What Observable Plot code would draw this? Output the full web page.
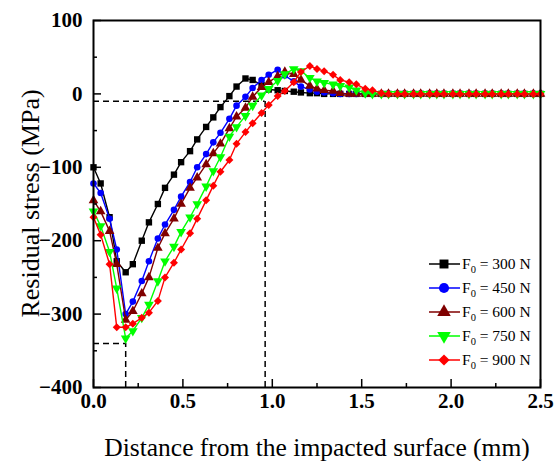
<!DOCTYPE html>
<html><head><meta charset="utf-8">
<script src="https://cdn.jsdelivr.net/npm/d3@7"></script>
<script src="https://cdn.jsdelivr.net/npm/@observablehq/plot@0.6"></script>
<style>body{margin:0;background:#fff} #chart{position:relative;width:556px;height:461px}</style>
</head><body><div id="chart"></div>
<script>
const distance = [0,0.04,0.09,0.13,0.18,0.22,0.27,0.31,0.36,0.40,0.45,0.49,0.54,0.58,0.63,0.67,0.71,0.76,0.80,0.85,0.89,0.94,0.98,1.03,1.07,1.12,1.16,1.21,1.25,1.29,1.34,1.38,1.43,1.47,1.52,1.56,1.61,1.65,1.70,1.74,1.79,1.83,1.88,1.92,1.96,2.01,2.05,2.10,2.14,2.19,2.23,2.28,2.32,2.37,2.41,2.46,2.50];
const stress300 = [-100,-122,-168,-228,-243,-232,-200,-175,-150,-128, -110,-93,-78,-62,-45,-32,-18,-3,10,21, 19,12,6,5,4,3,2,1,1,0, 0,0,0,0,0,0,0,0,0,0, 0,0,0,0,0,0,0,0,0,0, 0,0,0,0,0,0,0];
const stress450 = [-122,-135,-170,-212,-300,-283,-255,-228,-197,-178, -158,-140,-120,-100,-82,-66,-53,-34,-16,-4, 8,19,26,33,25,17,10,6,3,2, 1,0,0,0,0,0,0,0,0,0, 0,0,0,0,0,0,0,0,0,0, 0,0,0,0,0,0,0];
const stress600 = [-145,-160,-187,-232,-308,-296,-272,-250,-210,-190, -170,-150,-128,-114,-96,-81,-68,-47,-31,-19, -4,9,16,24,30,27,19,11,7,5, 4,1,0,0,0,0,0,0,0,0, 0,0,0,0,0,0,0,0,0,0, 0,0,0,0,0,0,0];
const stress750 = [-160,-180,-215,-265,-333,-323,-305,-287,-255,-228, -208,-188,-168,-150,-126,-105,-86,-58,-45,-30, -16,-2,7,18,27,34,31,22,17,15, 13,11,9,5,1,0,0,0,0,0, 0,0,0,0,0,0,0,0,0,0, 0,0,0,0,0,0,0];
const stress900 = [-168,-192,-232,-318,-318,-313,-305,-298,-282,-250, -230,-212,-190,-170,-145,-125,-106,-90,-68,-52, -40,-26,-15,-3,4,16,30,38,34,31, 26,19,16,13,7,5,1,0,0,0, 0,0,0,0,0,0,0,0,0,0, 0,0,0,0,0,0,0];

const loads = ["300", "450", "600", "750", "900"];
const seriesValues = [stress300, stress450, stress600, stress750, stress900];
const colors = ["#000000", "#0000ff", "#800000", "#00ff00", "#ff0000"];
const symbols = ["square", "circle", "triangle", "triangle", "diamond2"];
const symbolRotate = [0, 0, 0, 180, 0];

const xMajorTicks = [0, 0.5, 1, 1.5, 2, 2.5];
const xMinorTicks = [0.25, 0.75, 1.25, 1.75, 2.25];
const yMajorTicks = [-400, -300, -200, -100, 0, 100];
const yMinorTicks = [-350, -250, -150, -50, 50];
const guideDepth = [0.96, 0.18];
const guideStress = [-10, -340];

const xTitle = "Distance from the impacted surface (mm)";
const yTitle = "Residual stress (MPa)";

const W = 556, H = 461, mL = 93, mR = 16, mT = 20, mB = 74;
const innerW = W - mL - mR, innerH = H - mT - mB;
const serif = "'Liberation Serif', 'Times New Roman', serif";

const guides = guideDepth.map((d, i) => ({depth: d, stress: guideStress[i]}));
const seriesRows = seriesValues.map((vals, i) => distance.map((d, j) => ({x: d, y: vals[j], load: loads[i]})));

const marks = [];
marks.push(Plot.ruleY(guides, {y: "stress", x1: 0, x2: "depth", stroke: "black", strokeWidth: 1.5, strokeDasharray: "6,4"}));
marks.push(Plot.ruleX(guides, {x: "depth", y1: -400, y2: "stress", stroke: "black", strokeWidth: 1.5, strokeDasharray: "6,4"}));
seriesRows.forEach((rows, i) => {
  marks.push(Plot.line(rows, {x: "x", y: "y", stroke: colors[i], strokeWidth: 1.4}));
  marks.push(Plot.dot(rows, {x: "x", y: "y", symbol: symbols[i], r: symbols[i] === "circle" ? 3.3 : 3.6, fill: colors[i], stroke: "none", rotate: symbolRotate[i]}));
});
marks.push(Plot.tickX(xMajorTicks, {x: d => d, insetTop: innerH - 8, stroke: "black", strokeWidth: 1.5}));
marks.push(Plot.tickX(xMinorTicks, {x: d => d, insetTop: innerH - 4, stroke: "black", strokeWidth: 1.5}));
marks.push(Plot.tickY(yMajorTicks, {y: d => d, insetRight: innerW - 8, stroke: "black", strokeWidth: 1.5}));
marks.push(Plot.tickY(yMinorTicks, {y: d => d, insetRight: innerW - 4, stroke: "black", strokeWidth: 1.5}));
marks.push(Plot.frame({stroke: "black", strokeWidth: 2}));
marks.push(Plot.axisX(xMajorTicks, {tickSize: 0, tickPadding: 6, tickFormat: d3.format(".1f"), fontSize: 21, fontWeight: "bold", label: null}));
marks.push(Plot.axisY(yMajorTicks, {tickSize: 0, tickPadding: 11, fontSize: 21, fontWeight: "bold", label: null}));
marks.push(Plot.text([xTitle], {text: d => d, frameAnchor: "bottom", dy: 60, fontSize: 25.5, lineAnchor: "middle"}));

const chart = Plot.plot({
  width: W, height: H,
  marginLeft: mL, marginRight: mR, marginTop: mT, marginBottom: mB,
  x: {domain: [0, 2.5]},
  y: {domain: [-400, 100]},
  style: {fontFamily: serif, fontSize: "21px", color: "black", background: "white", overflow: "visible"},
  marks
});
document.getElementById("chart").appendChild(chart);

const svg = d3.select(chart);
// y-axis title
svg.append("text")
  .attr("transform", `translate(39,${mT + innerH / 2}) rotate(-90)`)
  .attr("text-anchor", "middle")
  .attr("font-family", serif).attr("font-size", 26).attr("fill", "black")
  .text(yTitle);

// legend
const symMap = {square: d3.symbolSquare, circle: d3.symbolCircle, triangle: d3.symbolTriangle, diamond2: d3.symbolDiamond2};
const lg = svg.append("g").attr("font-family", serif).attr("font-size", 15.5).attr("text-anchor", "start");
loads.forEach((L, i) => {
  const cy = 264 + 24 * i;
  const g = lg.append("g").attr("transform", `translate(0,${cy})`);
  g.append("line").attr("x1", 429).attr("x2", 460).attr("y1", 0).attr("y2", 0).attr("stroke", colors[i]).attr("stroke-width", 1.5);
  g.append("path").attr("d", d3.symbol(symMap[symbols[i]], 80)()).attr("fill", colors[i])
    .attr("transform", `translate(444,0) rotate(${symbolRotate[i]})`);
  const t = g.append("text").attr("x", 462).attr("y", 5).attr("fill", "black").attr("text-anchor", "start");
  t.append("tspan").text("F");
  t.append("tspan").attr("font-size", 10.5).attr("dy", 4).text("0");
  t.append("tspan").attr("dy", -4).text(` = ${L} N`);
});
</script>
</body></html>
